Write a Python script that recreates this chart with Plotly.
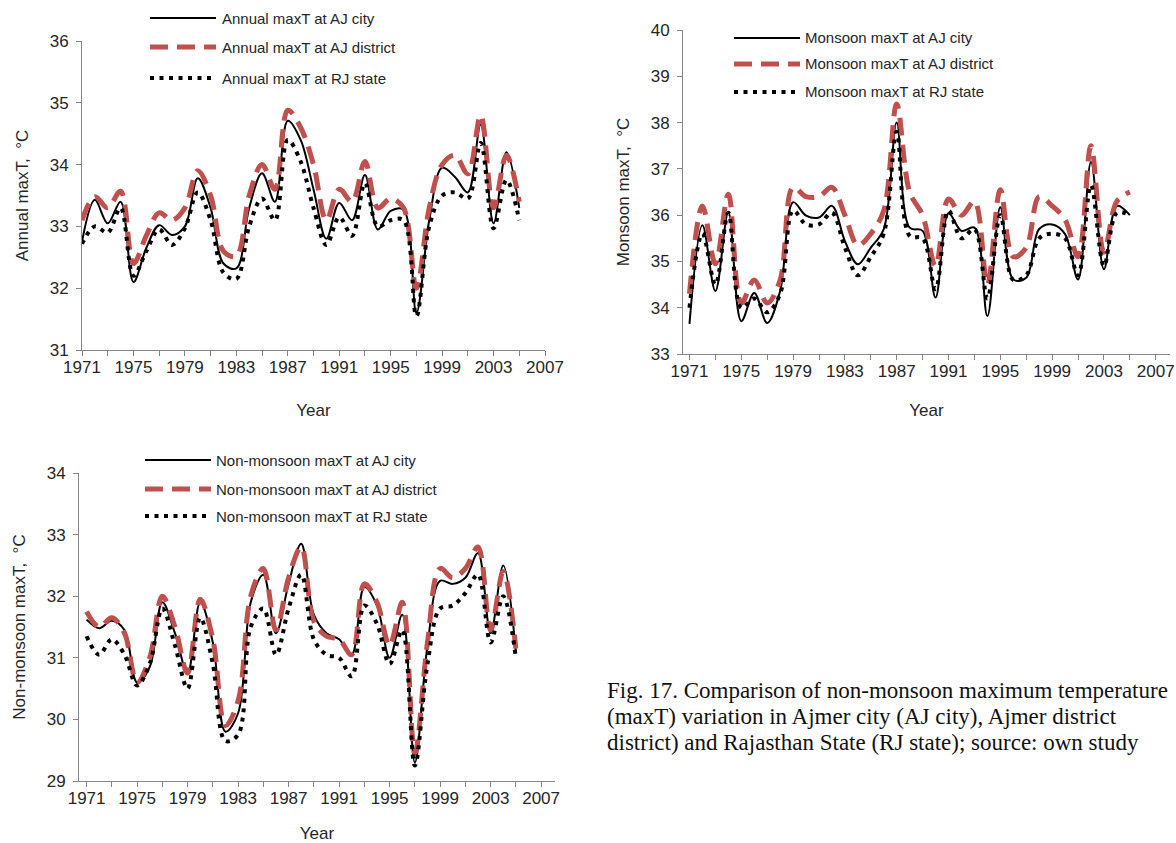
import plotly.graph_objects as go

years = list(range(1971, 2006))

annual_city = [32.75, 33.43, 33.05, 33.4, 32.1, 32.65, 33.02, 32.86, 33.0, 33.78, 33.3, 32.4, 32.32, 33.3, 33.86, 33.4, 34.71, 34.4, 33.6, 32.8, 33.38, 33.1, 33.83, 32.95, 33.25, 33.27, 31.6, 33.1, 33.95, 33.8, 33.55, 34.65, 33.05, 34.2, 33.3]
annual_district = [33.1, 33.48, 33.3, 33.57, 32.4, 32.85, 33.22, 33.1, 33.3, 33.9, 33.5, 32.6, 32.52, 33.5, 34.0, 33.6, 34.88, 34.6, 34.0, 33.1, 33.6, 33.4, 34.05, 33.3, 33.45, 33.3, 32.0, 33.3, 34.0, 34.15, 33.85, 34.8, 33.3, 34.15, 33.4]
annual_state = [32.72, 33.0, 32.9, 33.3, 32.2, 32.6, 32.95, 32.7, 32.97, 33.55, 33.1, 32.25, 32.15, 33.0, 33.45, 33.1, 34.4, 34.05, 33.3, 32.7, 33.15, 32.85, 33.7, 33.0, 33.1, 33.1, 31.55, 33.0, 33.5, 33.55, 33.45, 34.35, 32.97, 33.75, 33.1]

monsoon_city = [33.65, 35.78, 34.36, 36.06, 33.71, 34.32, 33.67, 34.36, 36.28, 35.99, 35.95, 36.2, 35.44, 34.94, 35.3, 35.7, 38.0, 35.73, 35.66, 34.22, 36.04, 35.66, 35.73, 33.82, 36.17, 34.61, 34.65, 35.7, 35.8, 35.59, 34.61, 37.15, 34.83, 36.2, 36.0]
monsoon_district = [34.3, 36.2, 34.95, 36.45, 34.1, 34.6, 34.1, 34.6, 36.6, 36.4, 36.4, 36.6, 36.0, 35.35, 35.6, 36.1, 38.4, 36.5, 36.0, 34.9, 36.35, 36.0, 36.3, 34.5, 36.55, 35.1, 35.3, 36.4, 36.2, 35.9, 35.1, 37.5, 35.2, 36.3, 36.5]
monsoon_state = [34.0, 35.6, 34.5, 36.05, 34.0, 34.2, 33.9, 34.3, 36.1, 35.8, 35.8, 36.05, 35.3, 34.7, 35.1, 35.6, 37.8, 35.55, 35.5, 34.4, 36.1, 35.5, 35.7, 34.2, 36.0, 34.6, 34.7, 35.5, 35.6, 35.5, 34.7, 36.65, 34.9, 36.05, 36.0]

nonmonsoon_city = [31.62, 31.48, 31.6, 31.45, 30.6, 30.85, 31.9, 31.4, 30.75, 31.9, 31.25, 29.8, 30.1, 31.9, 32.35, 31.4, 32.2, 32.85, 31.7, 31.4, 31.3, 31.05, 32.15, 31.85, 31.0, 31.7, 29.3, 31.2, 32.25, 32.2, 32.3, 32.7, 31.4, 32.5, 31.1]
nonmonsoon_district = [31.75, 31.5, 31.65, 31.4, 30.6, 31.0, 32.0, 31.5, 30.75, 31.95, 31.3, 29.9, 30.3, 32.0, 32.45, 31.45, 32.3, 32.8, 31.6, 31.35, 31.3, 31.05, 32.2, 31.9, 31.2, 31.9, 29.45, 31.25, 32.45, 32.3, 32.45, 32.8, 31.45, 32.4, 31.15]
nonmonsoon_state = [31.35, 31.05, 31.3, 31.05, 30.55, 30.9, 31.8, 31.2, 30.5, 31.65, 30.9, 29.65, 29.75, 31.5, 31.8, 31.05, 31.8, 32.35, 31.3, 31.05, 31.0, 30.7, 31.85, 31.55, 30.9, 31.45, 29.25, 30.9, 31.8, 31.85, 32.05, 32.35, 31.25, 32.0, 31.0]

x_tick_labels = [str(y) for y in range(1971, 2008, 4)]

W, H = 1176, 843
RED = "#c0504d"
FONT = "Liberation Sans, Arial, sans-serif"
TXT = "#262626"
AX = "#868686"
NB = "\u00a0"

fig = go.Figure()

panels = [
    dict(xa="x", ya="y", series=[annual_city, annual_district, annual_state],
         names=["Annual maxT at AJ city", "Annual maxT at AJ district", "Annual maxT at RJ state"],
         ytitle="Annual maxT," + NB * 2 + "\u00b0C", yr=[31, 36],
         xdom=[82, 545], ydom=[41, 350], xr=[1971, 2007], xstand=27,
         leg_x=[150, 216], leg_text_x=220, leg_y=[18, 47, 78]),
    dict(xa="x2", ya="y2", series=[monsoon_city, monsoon_district, monsoon_state],
         names=["Monsoon maxT at AJ city", "Monsoon maxT at AJ district", "Monsoon maxT at RJ state"],
         ytitle="Monsoon maxT," + NB * 2 + "\u00b0C", yr=[33, 40],
         xdom=[683, 1170], ydom=[30, 354], xr=[1970.5, 2008.1], xstand=23,
         leg_x=[734, 800], leg_text_x=803, leg_y=[38, 64, 92]),
    dict(xa="x3", ya="y3", series=[nonmonsoon_city, nonmonsoon_district, nonmonsoon_state],
         names=["Non-monsoon maxT at AJ city", "Non-monsoon maxT at AJ district", "Non-monsoon maxT at RJ state"],
         ytitle="Non-monsoon maxT," + NB * 2 + "\u00b0C", yr=[29, 34],
         xdom=[79, 555], ydom=[473, 781], xr=[1970.4, 2008.1], xstand=24,
         leg_x=[145, 211], leg_text_x=214, leg_y=[460, 489, 516]),
]

styles = [
    dict(color="black", width=2, dash="solid"),
    dict(color=RED, width=5, dash="18px,9px"),
    dict(color="black", width=4, dash="4px,5.5px"),
]

shapes = []
annotations = []
layout_axes = {}
for i, p in enumerate(panels):
    for s, st, nm in zip(p["series"], styles, p["names"]):
        fig.add_trace(go.Scatter(x=years, y=s, mode="lines", name=nm,
                                 line=dict(color=st["color"], width=st["width"], dash=st["dash"],
                                           shape="spline", smoothing=1.0),
                                 xaxis=p["xa"], yaxis=p["ya"], showlegend=False))
    suffix = "" if i == 0 else str(i + 1)
    xd = [p["xdom"][0] / W, p["xdom"][1] / W]
    yd = [1 - p["ydom"][1] / H, 1 - p["ydom"][0] / H]
    layout_axes["xaxis" + suffix] = dict(
        domain=xd, range=p["xr"], anchor=p["ya"],
        tickvals=[int(t) for t in x_tick_labels], ticktext=x_tick_labels,
        ticks="outside", ticklen=5, tickcolor=AX, ticklabelstandoff=-3,
        minor=dict(tickvals=list(range(1973, 2008, 4)), ticks="outside", ticklen=5, tickcolor=AX),
        showline=True, linecolor=AX, linewidth=1, showgrid=False, zeroline=False,
        tickfont=dict(family=FONT, size=17, color=TXT),
        title=dict(text="Year", font=dict(family=FONT, size=17, color=TXT), standoff=p["xstand"]),
        automargin=False,
    )
    layout_axes["yaxis" + suffix] = dict(
        domain=yd, range=p["yr"], anchor=p["xa"], dtick=1,
        ticks="outside", ticklen=5, tickcolor=AX, ticklabelstandoff=4,
        showline=True, linecolor=AX, linewidth=1, showgrid=False, zeroline=False,
        tickfont=dict(family=FONT, size=17, color=TXT),
        title=dict(text=p["ytitle"], font=dict(family=FONT, size=17, color=TXT), standoff=16),
        automargin=False,
    )
    # manual legend
    for st, nm, ly in zip(styles, p["names"], p["leg_y"]):
        shapes.append(dict(type="line", xref="paper", yref="paper",
                           x0=p["leg_x"][0] / W, x1=p["leg_x"][1] / W,
                           y0=1 - ly / H, y1=1 - ly / H,
                           line=dict(color=st["color"], width=st["width"], dash=st["dash"])))
        annotations.append(dict(text=nm, xref="paper", yref="paper",
                                x=p["leg_text_x"] / W, y=1 - ly / H,
                                xanchor="left", yanchor="middle", showarrow=False,
                                font=dict(family=FONT, size=15, color=TXT)))

caption = ["Fig. 17. Comparison of non-monsoon maximum temperature",
           "(maxT) variation in Ajmer city (AJ city), Ajmer district",
           "district) and Rajasthan State (RJ state); source: own study"]
for line, cy in zip(caption, [690, 716, 742]):
    annotations.append(dict(text=line, xref="paper", yref="paper",
                            x=605 / W, y=1 - cy / H, xanchor="left", yanchor="middle",
                            showarrow=False,
                            font=dict(family="Liberation Serif, Times New Roman, serif", size=23, color="#111")))

fig.update_layout(
    width=W, height=H,
    margin=dict(l=0, r=0, t=0, b=0),
    paper_bgcolor="white", plot_bgcolor="white",
    showlegend=False,
    shapes=shapes, annotations=annotations,
    **layout_axes,
)

fig.write_html("out.html", config={"displayModeBar": False},
               post_script="document.body.style.margin='0';document.body.style.overflow='hidden';")
